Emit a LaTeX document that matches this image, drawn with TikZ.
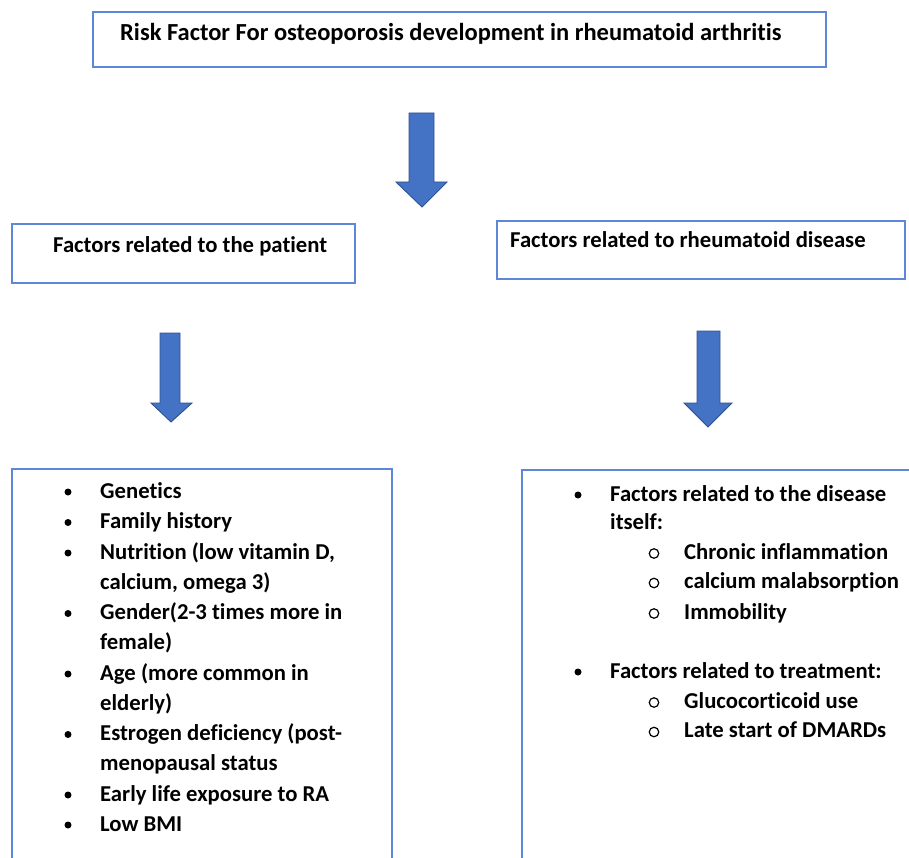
\documentclass[tikz,border=0pt]{standalone}
\usepackage{fontspec}
\setmainfont{Carlito}[RawFeature={-liga;-clig;-calt;-dlig}]
\definecolor{boxline}{RGB}{95,135,215}
\definecolor{arrfill}{RGB}{68,114,196}
\definecolor{arredge}{RGB}{47,82,143}
\begin{document}
\begin{tikzpicture}[x=1pt,y=-1pt,
  boxframe/.style={draw=boxline,line width=1.4pt},
  txt/.style={anchor=base west,inner sep=0pt,font=\fontsize{22.7}{26}\selectfont\bfseries},
  titletxt/.style={anchor=base west,inner sep=0pt,font=\fontsize{24.5}{28}\selectfont\bfseries},
  dotbullet/.style={circle,fill=black,inner sep=0pt,minimum size=7pt},
  ringbullet/.style={circle,draw=black,line width=1.2pt,inner sep=0pt,minimum size=9.5pt},
  blockarrow/.style={fill=arrfill,draw=arredge,line width=0.9pt,line join=miter}]
\useasboundingbox (0,0) rectangle (909,858);
% top box
\draw[boxframe] (93,12) rectangle (826,67);
\node[titletxt] (title) at (120,41) {Risk Factor For osteoporosis development in rheumatoid arthritis};
% arrow 1
\draw[blockarrow] (409,113) -- (434,113) -- (434,182) -- (447,182) -- (422,207) -- (396,182) -- (409,182) -- cycle;
% middle boxes
\draw[boxframe] (12,224) rectangle (355,283);
\node[txt] (pat) at (53,253) {Factors related to the patient};
\draw[boxframe] (497,221) rectangle (905,279);
\node[txt] (dis) at (510,248) {Factors related to rheumatoid disease};
% arrows 2 and 3
\draw[blockarrow] (160,333) -- (180,333) -- (180,403) -- (192,403) -- (171,422) -- (151,403) -- (160,403) -- cycle;
\draw[blockarrow] (697,331) -- (720,331) -- (720,403) -- (732,403) -- (708,427) -- (684,403) -- (697,403) -- cycle;
% bottom boxes (open at bottom)
\draw[boxframe] (12,860) -- (12,469) -- (392,469) -- (392,860);
\draw[boxframe] (522,860) -- (522,470) -- (912,470);
% left list
\node[dotbullet] (lb1) at (68,492) {};
\node[txt] (l1) at (100,498) {Genetics};
\node[dotbullet] (lb2) at (68,522.5) {};
\node[txt] (l2) at (100,528.5) {Family history};
\node[dotbullet] (lb3) at (68,553) {};
\node[txt] (l3) at (100,559) {Nutrition (low vitamin D,};
\node[txt] (l3b) at (100,589) {calcium, omega 3)};
\node[dotbullet] (lb4) at (68,613.5) {};
\node[txt] (l4) at (100,619.5) {Gender(2-3 times more in};
\node[txt] (l4b) at (100,649.5) {female)};
\node[dotbullet] (lb5) at (68,674) {};
\node[txt] (l5) at (100,680) {Age (more common in};
\node[txt] (l5b) at (100,710) {elderly)};
\node[dotbullet] (lb6) at (68,734.5) {};
\node[txt] (l6) at (100,740.5) {Estrogen deficiency (post-};
\node[txt] (l6b) at (100,770.5) {menopausal status};
\node[dotbullet] (lb7) at (68,795) {};
\node[txt] (l7) at (100,801) {Early life exposure to RA};
\node[dotbullet] (lb8) at (68,825) {};
\node[txt] (l8) at (100,831) {Low BMI};
% right list
\node[dotbullet] (rb1) at (578,495) {};
\node[txt] (r1) at (610,501) {Factors related to the disease};
\node[txt] (r1b) at (610,529.5) {itself:};
\node[ringbullet] (rc1) at (654,553.5) {};
\node[txt] (r2) at (684,559) {Chronic inflammation};
\node[ringbullet] (rc2) at (654,583) {};
\node[txt] (r3) at (684,588.5) {calcium malabsorption};
\node[ringbullet] (rc3) at (654,613.5) {};
\node[txt] (r4) at (684,619) {Immobility};
\node[dotbullet] (rb2) at (578,672) {};
\node[txt] (r5) at (610,678) {Factors related to treatment:};
\node[ringbullet] (rc4) at (654,702.5) {};
\node[txt] (r6) at (684,708) {Glucocorticoid use};
\node[ringbullet] (rc5) at (654,732) {};
\node[txt] (r7) at (684,737.5) {Late start of DMARDs};
\end{tikzpicture}
\end{document}
